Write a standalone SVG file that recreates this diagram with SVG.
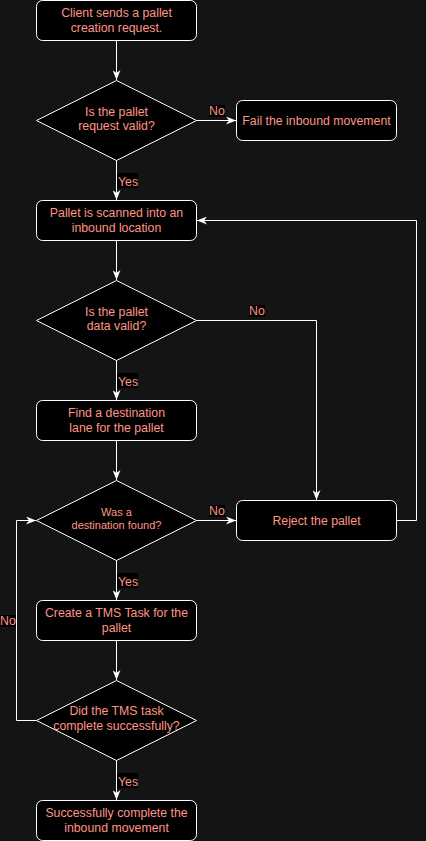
<svg xmlns="http://www.w3.org/2000/svg" width="426" height="841" viewBox="0 0 426 841">
<defs>
<style>
.bg{fill:#141414}
.box{fill:#000;stroke:#fff;stroke-width:1}
.t{font-family:"Liberation Sans",Arial,sans-serif;font-size:12.3px;fill:#FF9585;text-anchor:middle}
.s{font-size:11px}
.lbl{font-family:"Liberation Sans",Arial,sans-serif;font-size:12.3px;fill:#FF9585}
.lb{fill:#000}
.e{fill:none;stroke:#fff;stroke-width:1}
</style>
<marker id="a" viewBox="0 0 10 8" refX="10" refY="4" markerWidth="10" markerHeight="8" markerUnits="userSpaceOnUse" orient="auto">
<path d="M0,0 L10,4 L0,8 L3,4 Z" fill="#fff"/>
</marker>
</defs>
<rect class="bg" x="0" y="0" width="426" height="841"/>
<g id="connectors">
<path class="e" d="M116.5,40.5 V80" marker-end="url(#a)"/>
<path class="e" d="M196.5,120.5 H236" marker-end="url(#a)"/>
<path class="e" d="M116.5,160.5 V200" marker-end="url(#a)"/>
<path class="e" d="M116.5,240.5 V280" marker-end="url(#a)"/>
<path class="e" d="M196.5,320.5 H316.5 V500" marker-end="url(#a)"/>
<path class="e" d="M116.5,360.5 V400" marker-end="url(#a)"/>
<path class="e" d="M116.5,440.5 V480" marker-end="url(#a)"/>
<path class="e" d="M196.5,520.5 H236" marker-end="url(#a)"/>
<path class="e" d="M396.5,520.5 H416.5 V220.5 H197" marker-end="url(#a)"/>
<path class="e" d="M116.5,560.5 V600" marker-end="url(#a)"/>
<path class="e" d="M116.5,640.5 V680" marker-end="url(#a)"/>
<path class="e" d="M36.5,720.5 H16.5 V520.5 H36" marker-end="url(#a)"/>
<path class="e" d="M116.5,760.5 V800" marker-end="url(#a)"/>
<rect class="lb" x="209" y="105" width="16" height="12"/>
<text class="lbl" x="209" y="115">No</text>
<rect class="lb" x="117" y="173" width="21" height="15"/>
<text class="lbl" x="118" y="185.5">Yes</text>
<rect class="lb" x="249" y="305" width="16" height="12"/>
<text class="lbl" x="249" y="315">No</text>
<rect class="lb" x="117" y="373" width="21" height="15"/>
<text class="lbl" x="118" y="385.5">Yes</text>
<rect class="lb" x="209" y="505" width="16" height="12"/>
<text class="lbl" x="209" y="515">No</text>
<rect class="lb" x="117" y="573" width="21" height="15"/>
<text class="lbl" x="118" y="585.5">Yes</text>
<rect class="lb" x="0" y="615" width="16" height="12"/>
<text class="lbl" x="0" y="625">No</text>
<rect class="lb" x="117" y="773" width="21" height="15"/>
<text class="lbl" x="118" y="785.5">Yes</text>
</g>
<g id="n1"><rect class="box" x="36.5" y="0.5" width="160" height="40" rx="6"/>
<text class="t" x="116.5" y="17">Client sends a pallet</text><text class="t" x="116.5" y="31.5">creation request.</text></g>
<g id="d1"><path class="box" d="M116.5,80.5 L196.5,120.5 L116.5,160.5 L36.5,120.5 Z"/>
<text class="t" x="116.5" y="115.5">Is the pallet</text><text class="t" x="116.5" y="130">request valid?</text></g>
<g id="n2"><rect class="box" x="236.5" y="100.5" width="160" height="40" rx="6"/>
<text class="t" x="316.5" y="125">Fail the inbound movement</text></g>
<g id="n3"><rect class="box" x="36.5" y="200.5" width="160" height="40" rx="6"/>
<text class="t" x="116.5" y="217">Pallet is scanned into an</text><text class="t" x="116.5" y="231.5">inbound location</text></g>
<g id="d2"><path class="box" d="M116.5,280.5 L196.5,320.5 L116.5,360.5 L36.5,320.5 Z"/>
<text class="t" x="116.5" y="315.5">Is the pallet</text><text class="t" x="116.5" y="330">data valid?</text></g>
<g id="n4"><rect class="box" x="36.5" y="400.5" width="160" height="40" rx="6"/>
<text class="t" x="116.5" y="417">Find a destination</text><text class="t" x="116.5" y="431.5">lane for the pallet</text></g>
<g id="d3"><path class="box" d="M116.5,480.5 L196.5,520.5 L116.5,560.5 L36.5,520.5 Z"/>
<text class="t s" x="116.5" y="516">Was a</text><text class="t s" x="116.5" y="529">destination found?</text></g>
<g id="n5"><rect class="box" x="236.5" y="500.5" width="160" height="40" rx="6"/>
<text class="t" x="316.5" y="525">Reject the pallet</text></g>
<g id="n6"><rect class="box" x="36.5" y="600.5" width="160" height="40" rx="6"/>
<text class="t" x="116.5" y="617">Create a TMS Task for the</text><text class="t" x="116.5" y="631.5">pallet</text></g>
<g id="d4"><path class="box" d="M116.5,680.5 L196.5,720.5 L116.5,760.5 L36.5,720.5 Z"/>
<text class="t" x="116.5" y="715">Did the TMS task</text><text class="t" x="116.5" y="730">complete successfully?</text></g>
<g id="n7"><rect class="box" x="36.5" y="800.5" width="160" height="40" rx="6"/>
<text class="t" x="116.5" y="817">Successfully complete the</text><text class="t" x="116.5" y="831.5">inbound movement</text></g>
</svg>
